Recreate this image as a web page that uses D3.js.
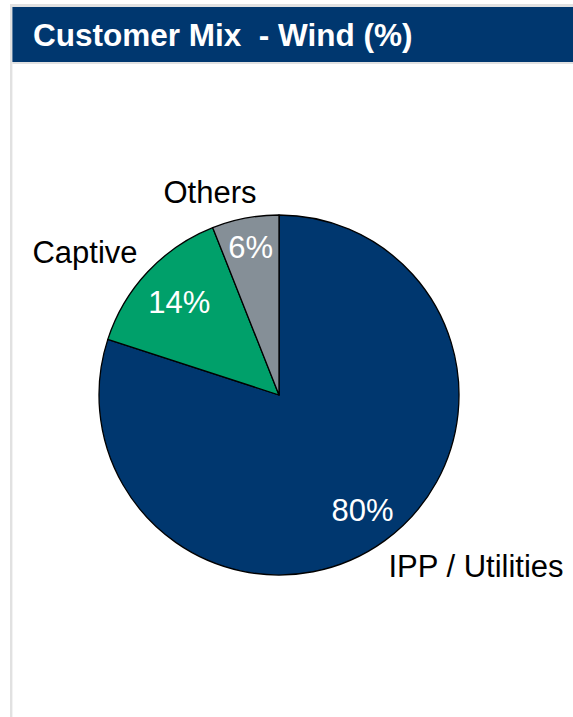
<!DOCTYPE html>
<html>
<head>
<meta charset="utf-8">
<script src="https://cdn.jsdelivr.net/npm/d3@7"></script>
<style>
  html, body { margin: 0; padding: 0; background: #fff; }
  svg { display: block; }
  text { font-family: "Liberation Sans", Arial, sans-serif; }
</style>
</head>
<body>
<svg id="chart" width="573" height="717"></svg>
<script>
// Customer mix for the wind business, share of volume in percent
const categories = ["IPP / Utilities", "Captive", "Others"];
const shares = [80, 14, 6];
const sliceColors = ["#00376F", "#00A06A", "#858F97"];
const titleText = "Customer Mix  - Wind (%)";

const svg = d3.select("#chart");
const W = 573, H = 717;

// panel frame: light grey rule at the top and left
svg.append("rect").attr("x", 10).attr("y", 4).attr("width", W - 10).attr("height", 3).attr("fill", "#e1e1e1");
svg.append("rect").attr("x", 10).attr("y", 4).attr("width", 2.4).attr("height", H - 4).attr("fill", "#e1e1e1");

// header bar
svg.append("rect").attr("x", 12.4).attr("y", 7).attr("width", W - 12.4).attr("height", 55).attr("fill", "#00376F");
svg.append("rect").attr("x", 12.4).attr("y", 62).attr("width", W - 12.4).attr("height", 2).attr("fill", "#e1e1e1");
svg.append("text")
  .attr("x", 33).attr("y", 46)
  .attr("fill", "#fff")
  .attr("font-size", 31.5)
  .attr("font-weight", "bold")
  .style("white-space", "pre")
  .text(titleText);

// pie
const cx = 279, cy = 395, r = 180;
const data = categories.map((c, i) => ({ name: c, value: shares[i], color: sliceColors[i] }));
const pie = d3.pie().value(d => d.value).sort(null)
  .startAngle(0).endAngle(2 * Math.PI);
const arcs = pie(data);
const arc = d3.arc().innerRadius(0).outerRadius(r);

const g = svg.append("g").attr("transform", `translate(${cx},${cy})`);
g.selectAll("path.slice")
  .data(arcs)
  .join("path")
  .attr("class", "slice")
  .attr("d", arc)
  .attr("fill", d => d.data.color)
  .attr("stroke", "#000")
  .attr("stroke-width", 1.3)
  .attr("stroke-linejoin", "round");

// value labels inside the slices
const valueRadius = [0.79, 0.76, 0.84];
const valueArc = i => d3.arc().innerRadius(r * valueRadius[i]).outerRadius(r * valueRadius[i]);
g.selectAll("text.value")
  .data(arcs)
  .join("text")
  .attr("class", "value")
  .attr("transform", (d, i) => {
    const [x, y] = valueArc(i).centroid(d);
    return `translate(${x},${y})`;
  })
  .attr("text-anchor", "middle")
  .attr("dy", "0.36em")
  .attr("fill", "#fff")
  .attr("font-size", 31)
  .text(d => d.data.value + "%");

// category labels outside the pie
const nameOffsets = [
  { x: 476, y: 577, anchor: "middle" },
  { x: 85, y: 263, anchor: "middle" },
  { x: 210, y: 203, anchor: "middle" }
];
svg.selectAll("text.name")
  .data(arcs)
  .join("text")
  .attr("class", "name")
  .attr("x", (d, i) => nameOffsets[i].x)
  .attr("y", (d, i) => nameOffsets[i].y)
  .attr("text-anchor", (d, i) => nameOffsets[i].anchor)
  .attr("fill", "#000")
  .attr("font-size", 31)
  .text(d => d.data.name);
</script>
</body>
</html>
